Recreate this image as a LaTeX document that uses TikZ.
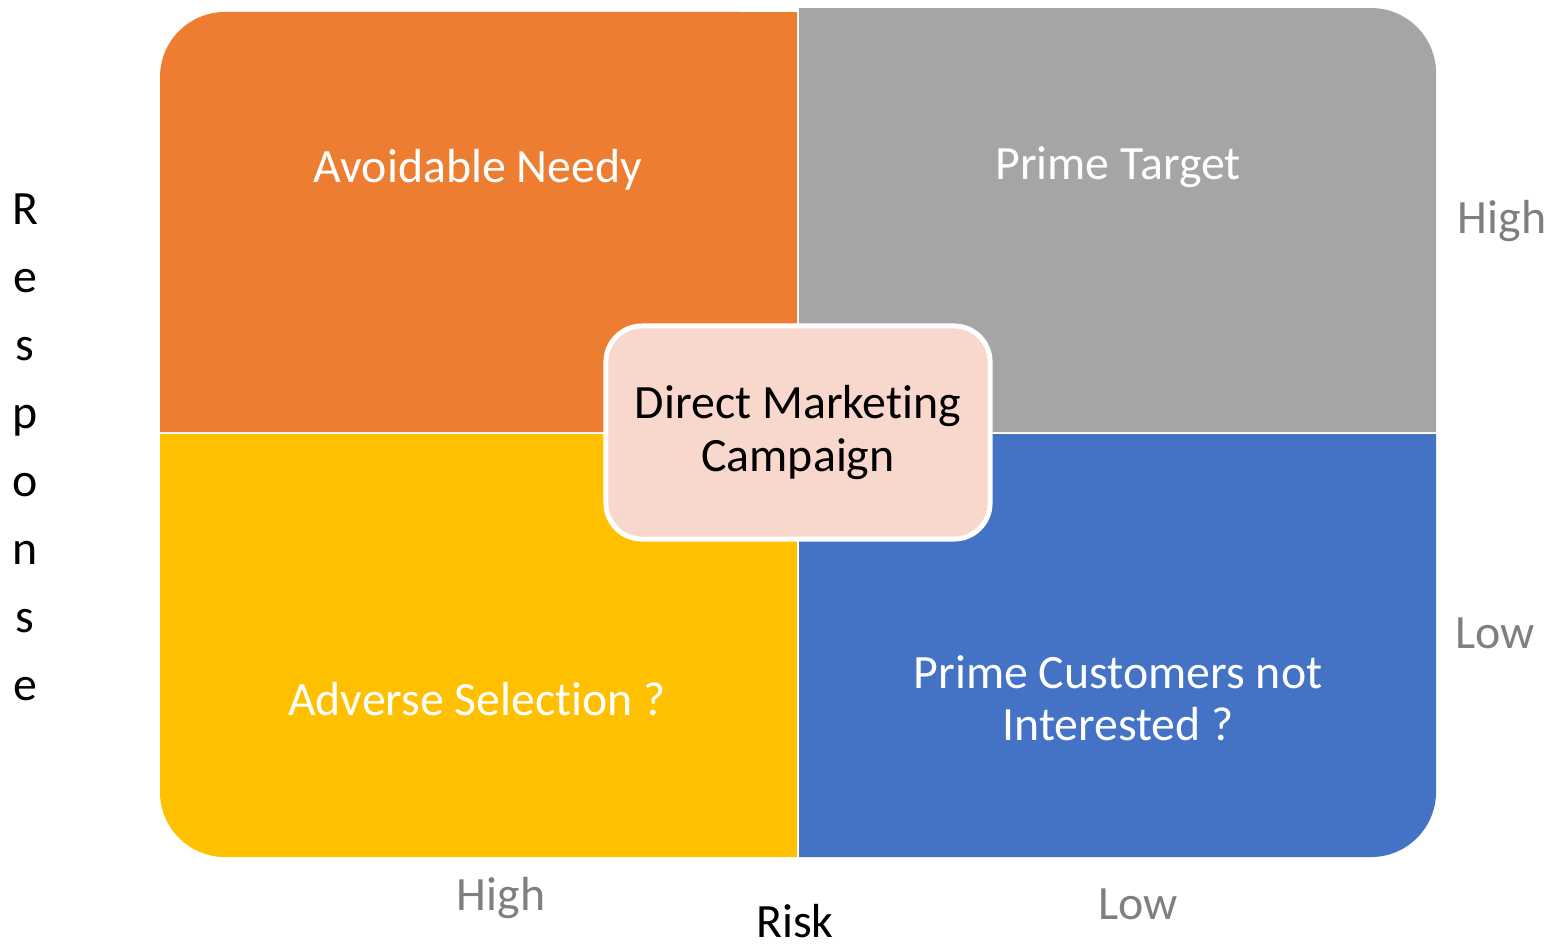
\documentclass[tikz,border=0pt]{standalone}
\usepackage{fontspec}
\setmainfont{Carlito}[Ligatures={NoCommon,NoContextual}]
\definecolor{qorange}{HTML}{ED7D31}
\definecolor{qgray}{HTML}{A5A5A5}
\definecolor{qyellow}{HTML}{FFC000}
\definecolor{qblue}{HTML}{4472C4}
\definecolor{qpink}{HTML}{F8D7CD}
\definecolor{axisgray}{HTML}{7F7F7F}
\tikzset{
  lbl/.style={font=\fontsize{13.6}{14.8}\selectfont, text=white, align=center, inner sep=0pt},
  axlbl/.style={font=\fontsize{13.6}{14.8}\selectfont, text=axisgray, inner sep=0pt},
  centerbox/.style={draw=white, line width=1.4pt, fill=qpink, rounded corners=0.36cm,
    minimum width=3.84cm, minimum height=2.13cm, align=center,
    font=\fontsize{13.6}{14.8}\selectfont, text=black, inner sep=0pt},
}
\begin{document}
\begin{tikzpicture}[x=0.01cm,y=0.01cm]
\useasboundingbox (0,0) rectangle (1555,-945);
% quadrants
\fill[qorange] (797,-432) -- (160,-432) -- (160,-77) arc[start angle=180,end angle=90,radius=0.65cm] -- (797,-12) -- cycle;
\fill[qgray] (799,-432) -- (799,-8) -- (1371,-8) arc[start angle=90,end angle=0,radius=0.65cm] -- (1436,-432) -- cycle;
\fill[qyellow] (797,-434) -- (160,-434) -- (160,-792) arc[start angle=180,end angle=270,radius=0.65cm] -- (797,-857) -- cycle;
\fill[qblue] (799,-434) -- (1436,-434) -- (1436,-792) arc[start angle=0,end angle=-90,radius=0.65cm] -- (799,-857) -- cycle;
% quadrant labels
\node[lbl] (an) at (478,-170) {Avoidable Needy};
\node[lbl] (pt) at (1118,-167) {Prime Target};
\node[lbl] (as) at (477,-699) {Adverse Selection ?};
\node[lbl] (pc) at (1118,-698) {Prime Customers not\\Interested ?};
% center
\node[centerbox] (dm) at (798,-432.5) {Direct Marketing\\Campaign};
% axis labels
\node[axlbl] (hr) at (1502,-221) {High};
\node[axlbl] (lr) at (1495,-633) {Low};
\node[axlbl] (hb) at (501,-898) {High};
\node[axlbl] (lb) at (1138,-904) {Low};
\node[font=\fontsize{13.6}{14.8}\selectfont, inner sep=0pt] (risk) at (795,-921) {Risk};
\node[font=\fontsize{13.6}{19.35}\selectfont, align=center, inner sep=0pt] (resp) at (25,-447) {R\\e\\s\\p\\o\\n\\s\\e};
\end{tikzpicture}
\end{document}
